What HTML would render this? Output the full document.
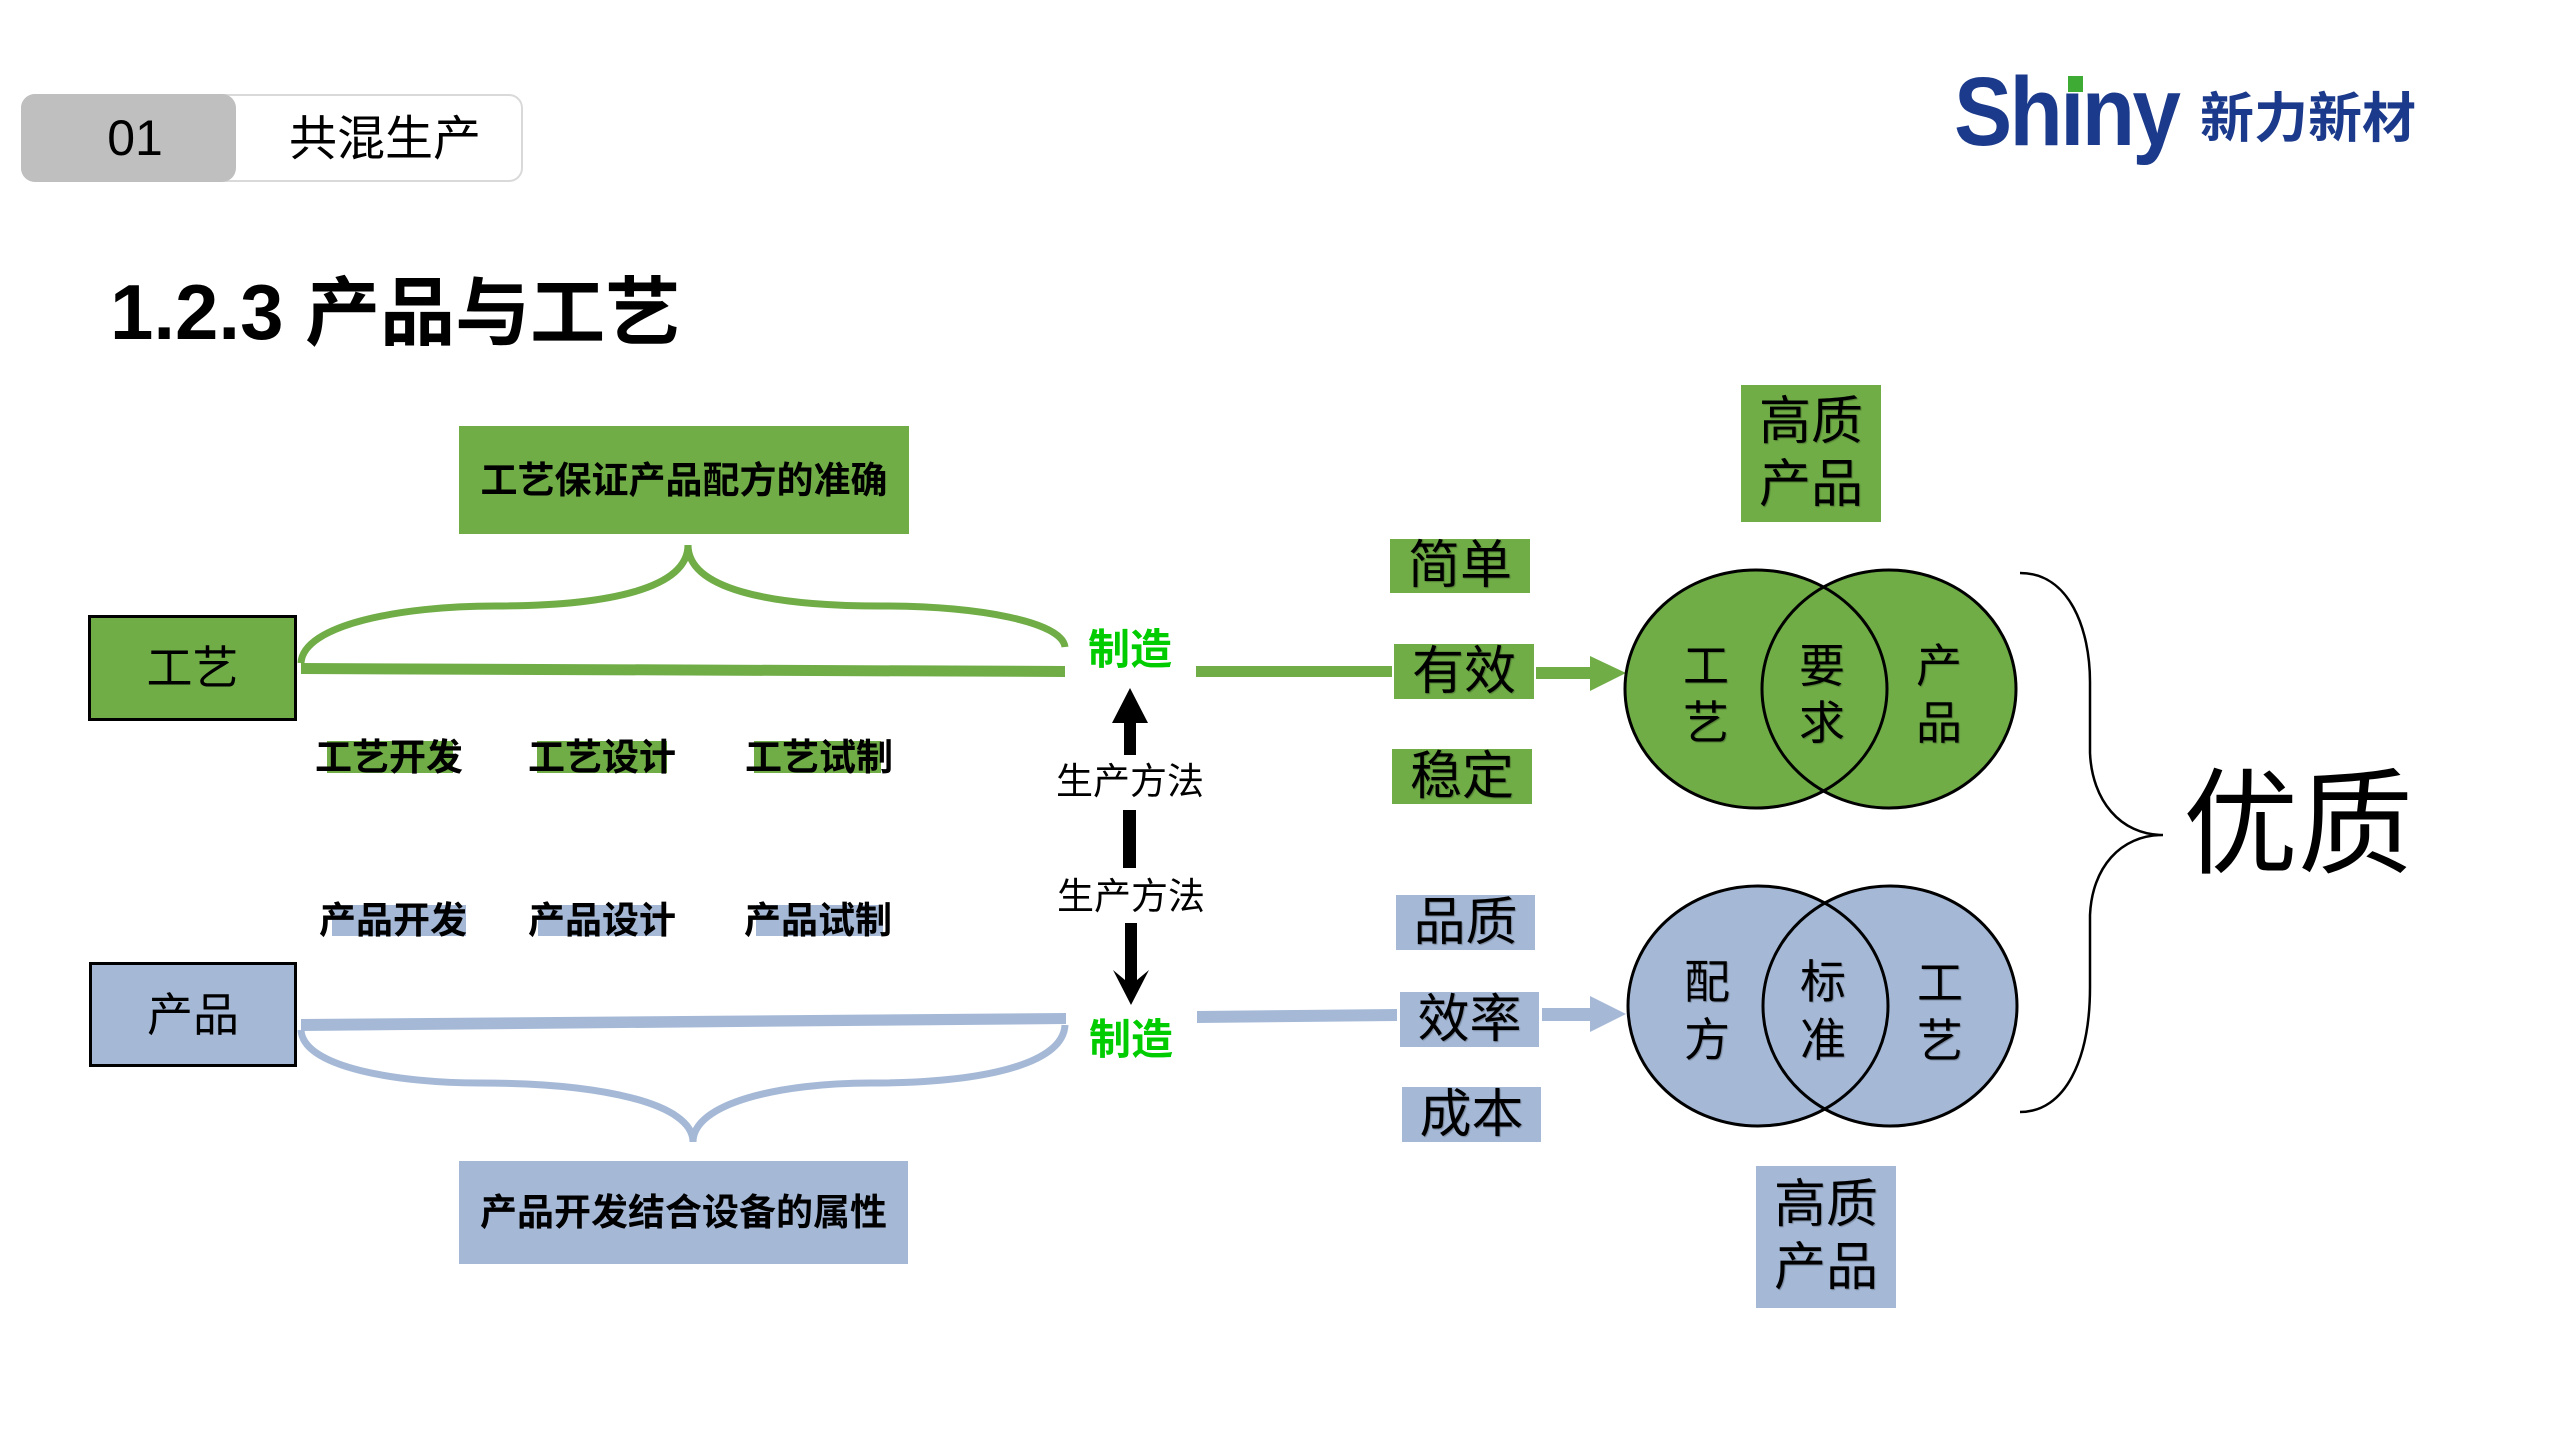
<!DOCTYPE html>
<html>
<head>
<meta charset="utf-8">
<style>
html,body{margin:0;padding:0;background:#fff;}
body{width:2560px;height:1440px;position:relative;overflow:hidden;font-family:"Liberation Sans","Noto Sans CJK SC",sans-serif;color:#000;}
.a{position:absolute;}
.c{position:absolute;display:flex;align-items:center;justify-content:center;white-space:nowrap;line-height:1;}
.g{background:#70ad47;}
.b{background:#a5b9d7;}
.sh{text-shadow:1px 1px 1px rgba(0,0,0,0.28);}
.w{font-size:52px;}
.v{font-size:46px;}
.lab{font-size:37px;font-weight:bold;}
</style>
</head>
<body>

<!-- Tab -->
<div class="a" style="left:21px;top:94px;width:502px;height:88px;border:2px solid #d9d9d9;border-radius:14px;box-sizing:border-box;background:#fff;"></div>
<div class="a" style="left:21px;top:94px;width:215px;height:88px;border-radius:14px;background:#bfbfbf;"></div>
<div class="c" style="left:85px;top:108px;width:100px;height:60px;font-size:50px;">01</div>
<div class="c" style="left:270px;top:110px;width:230px;height:60px;font-size:48px;">共混生产</div>

<!-- Title -->
<div class="a" style="left:110px;top:267px;white-space:nowrap;font-weight:bold;font-size:78px;line-height:90px;">1.2.3 <span style="font-size:75px;">产品与工艺</span></div>

<!-- Logo -->
<div class="a" style="left:1954px;top:63px;font-weight:bold;font-size:97px;line-height:97px;letter-spacing:-3px;color:#1b3a8b;white-space:nowrap;transform:scaleX(0.9);transform-origin:0 0;">Shıny</div>
<div class="a" style="left:2068px;top:76px;width:15px;height:16px;background:#3eac34;"></div>
<div class="a" style="left:2200px;top:92px;font-weight:bold;font-size:54px;line-height:54px;color:#1b3a8b;white-space:nowrap;">新力新材</div>

<!-- SVG shapes -->
<svg class="a" style="left:0;top:0;" width="2560" height="1440" viewBox="0 0 2560 1440">
  <path d="M301,663 C303,625 400,606 495,606 C610,606 688,588 688,545 C688,588 766,606 881,606 C980,606 1062,622 1065,647" fill="none" stroke="#70ad47" stroke-width="7"/>
  <polygon points="301,663 1065,666 1065,677 301,674" fill="#70ad47"/>
  <path d="M301,1030 C303,1068 400,1083 480,1083 C600,1083 693,1103 693,1142 C693,1103 780,1083 871,1083 C980,1083 1063,1065 1065,1025" fill="none" stroke="#a5b9d7" stroke-width="7"/>
  <polygon points="301,1019 1066,1013 1066,1024 301,1031" fill="#a5b9d7"/>

  <rect x="1196" y="666" width="196" height="11" fill="#70ad47"/>
  <rect x="1536" y="667" width="56" height="12" fill="#70ad47"/>
  <polygon points="1590,656 1626,673 1590,691" fill="#70ad47"/>
  <polygon points="1197,1011 1397,1009 1397,1021 1197,1023" fill="#a5b9d7"/>
  <rect x="1542" y="1008" width="50" height="13" fill="#a5b9d7"/>
  <polygon points="1590,996 1626,1014 1590,1032" fill="#a5b9d7"/>

  <polygon points="1130,688 1148,723 1136,723 1136,755 1124,755 1124,723 1112,723" fill="#000"/>
  <rect x="1123" y="810" width="13" height="58" fill="#000"/>
  <polygon points="1125,923 1137,923 1137,980 1149,970 1131,1005 1113,970 1125,980" fill="#000"/>

  <ellipse cx="1756" cy="689" rx="131" ry="119" fill="#70ad47"/>
  <ellipse cx="1889" cy="689" rx="127" ry="119" fill="#70ad47"/>
  <ellipse cx="1756" cy="689" rx="131" ry="119" fill="none" stroke="#000" stroke-width="3"/>
  <ellipse cx="1889" cy="689" rx="127" ry="119" fill="none" stroke="#000" stroke-width="3"/>
  <ellipse cx="1758" cy="1006" rx="130" ry="120" fill="#a5b9d7"/>
  <ellipse cx="1890" cy="1006" rx="127" ry="120" fill="#a5b9d7"/>
  <ellipse cx="1758" cy="1006" rx="130" ry="120" fill="none" stroke="#000" stroke-width="3"/>
  <ellipse cx="1890" cy="1006" rx="127" ry="120" fill="none" stroke="#000" stroke-width="3"/>

  <path d="M2020,573 C2070,573 2090,630 2090,682 L2090,753 C2092,800 2120,835 2163,835 C2120,835 2092,868 2090,915 L2090,987 C2090,1060 2065,1112 2020,1112" fill="none" stroke="#000" stroke-width="2.5"/>
</svg>

<div class="c g" style="left:88px;top:615px;width:209px;height:106px;border:3px solid #000;box-sizing:border-box;font-size:46px;">工艺</div>
<div class="c b" style="left:89px;top:962px;width:208px;height:105px;border:3px solid #000;box-sizing:border-box;font-size:46px;">产品</div>

<div class="c g lab" style="left:459px;top:426px;width:450px;height:108px;">工艺保证产品配方的准确</div>
<div class="c b lab" style="left:459px;top:1161px;width:449px;height:103px;">产品开发结合设备的属性</div>

<div class="a g" style="left:327px;top:741px;width:126px;height:32px;"></div>
<div class="a g" style="left:537px;top:741px;width:130px;height:32px;"></div>
<div class="a g" style="left:754px;top:741px;width:127px;height:32px;"></div>
<div class="a b" style="left:332px;top:905px;width:134px;height:31px;"></div>
<div class="a b" style="left:538px;top:905px;width:126px;height:31px;"></div>
<div class="a b" style="left:756px;top:905px;width:127px;height:31px;"></div>
<div class="c lab" style="left:309px;top:736px;width:160px;height:42px;">工艺开发</div>
<div class="c lab" style="left:522px;top:736px;width:160px;height:42px;">工艺设计</div>
<div class="c lab" style="left:739px;top:736px;width:160px;height:42px;">工艺试制</div>
<div class="c lab" style="left:313px;top:899px;width:160px;height:42px;">产品开发</div>
<div class="c lab" style="left:522px;top:899px;width:160px;height:42px;">产品设计</div>
<div class="c lab" style="left:738px;top:899px;width:160px;height:42px;">产品试制</div>

<div class="c" style="left:1070px;top:626px;width:120px;height:48px;font-size:42px;font-weight:bold;color:#00cc00;">制造</div>
<div class="c" style="left:1071px;top:1016px;width:120px;height:48px;font-size:42px;font-weight:bold;color:#00cc00;">制造</div>
<div class="c" style="left:1040px;top:760px;width:180px;height:42px;font-size:37px;">生产方法</div>
<div class="c" style="left:1041px;top:875px;width:180px;height:42px;font-size:37px;">生产方法</div>

<div class="c g w sh" style="left:1390px;top:539px;width:140px;height:54px;">简单</div>
<div class="c g w sh" style="left:1394px;top:644px;width:140px;height:55px;">有效</div>
<div class="c g w sh" style="left:1392px;top:749px;width:140px;height:55px;">稳定</div>
<div class="c b w sh" style="left:1396px;top:895px;width:139px;height:55px;">品质</div>
<div class="c b w sh" style="left:1400px;top:992px;width:139px;height:55px;">效率</div>
<div class="c b w sh" style="left:1402px;top:1087px;width:139px;height:55px;">成本</div>

<div class="c g w sh" style="left:1741px;top:385px;width:140px;height:137px;flex-direction:column;line-height:63px;"><span>高质</span><span>产品</span></div>
<div class="c b w sh" style="left:1756px;top:1166px;width:140px;height:142px;flex-direction:column;line-height:63px;"><span>高质</span><span>产品</span></div>

<div class="c v sh" style="left:1676px;top:642px;width:60px;height:48px;">工</div>
<div class="c v sh" style="left:1676px;top:699px;width:60px;height:48px;">艺</div>
<div class="c v sh" style="left:1792px;top:642px;width:60px;height:48px;">要</div>
<div class="c v sh" style="left:1792px;top:699px;width:60px;height:48px;">求</div>
<div class="c v sh" style="left:1909px;top:642px;width:60px;height:48px;">产</div>
<div class="c v sh" style="left:1909px;top:699px;width:60px;height:48px;">品</div>
<div class="c v sh" style="left:1677px;top:958px;width:60px;height:48px;">配</div>
<div class="c v sh" style="left:1677px;top:1016px;width:60px;height:48px;">方</div>
<div class="c v sh" style="left:1793px;top:958px;width:60px;height:48px;">标</div>
<div class="c v sh" style="left:1793px;top:1016px;width:60px;height:48px;">准</div>
<div class="c v sh" style="left:1910px;top:959px;width:60px;height:48px;">工</div>
<div class="c v sh" style="left:1910px;top:1017px;width:60px;height:48px;">艺</div>

<div class="c" style="left:2168px;top:762px;width:260px;height:126px;font-size:115px;">优质</div>

</body>
</html>
